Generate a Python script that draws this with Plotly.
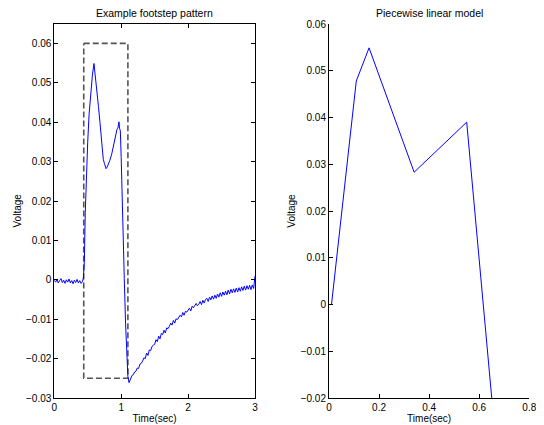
import plotly.graph_objects as go

# ---------------- data ----------------
# Left panel: recorded footstep voltage (sec, V)
base_t = [0.00, 0.02, 0.04, 0.06, 0.08, 0.10, 0.12, 0.14, 0.16, 0.18, 0.20,
          0.22, 0.24, 0.26, 0.28, 0.30, 0.32, 0.34, 0.36, 0.38, 0.40, 0.42]
base_v = [-0.0001, -0.0006, 0.0001, -0.0008, -0.0002, 0.0003, -0.0007, -0.0001,
          -0.0009, 0.0000, -0.0006, 0.0002, -0.0008, -0.0002, -0.0010, -0.0001,
          -0.0007, 0.0001, -0.0008, -0.0002, -0.0009, -0.0005]

pulse_t = [0.434, 0.449, 0.463, 0.474, 0.485, 0.499, 0.52, 0.544, 0.57, 0.593,
           0.61, 0.634, 0.66, 0.683, 0.71, 0.732, 0.75, 0.773, 0.79, 0.807,
           0.83, 0.858, 0.885, 0.908, 0.92, 0.937, 0.95, 0.967, 0.975, 0.987,
           1.0, 1.007, 1.046, 1.065, 1.082, 1.10, 1.117, 1.13]
pulse_v = [0.0004, 0.0045, 0.0171, 0.0240, 0.0300, 0.0348, 0.0420, 0.0479, 0.0520, 0.0549,
           0.0525, 0.0483, 0.0440, 0.0399, 0.0350, 0.0306, 0.0295, 0.0282, 0.0286, 0.0293,
           0.0303, 0.0319, 0.0340, 0.0357, 0.0372, 0.0382, 0.0385, 0.0401, 0.0385, 0.0378,
           0.0310, 0.0255, 0.0003, -0.0110, -0.0200, -0.0245, -0.0261, -0.0252]

decay_t = [1.14, 1.16, 1.18, 1.20, 1.22, 1.24, 1.26, 1.28, 1.30, 1.32, 1.34, 1.36,
           1.38, 1.40, 1.42, 1.44, 1.46, 1.48, 1.50, 1.52, 1.54, 1.56, 1.58, 1.60,
           1.62, 1.64, 1.66, 1.68, 1.70, 1.72, 1.74, 1.76, 1.78, 1.80, 1.82, 1.84,
           1.86, 1.88, 1.90, 1.92, 1.94, 1.96, 1.98, 2.00, 2.02, 2.04, 2.06, 2.08,
           2.10, 2.12, 2.14, 2.16, 2.18, 2.20, 2.22, 2.24, 2.26, 2.28, 2.30, 2.32,
           2.34, 2.36, 2.38, 2.40, 2.42, 2.44, 2.46, 2.48, 2.50, 2.52, 2.54, 2.56,
           2.58, 2.60, 2.62, 2.64, 2.66, 2.68, 2.70, 2.72, 2.74, 2.76, 2.78, 2.80,
           2.82, 2.84, 2.86, 2.88, 2.90, 2.92, 2.94, 2.96, 2.98, 3.00]
decay_v = [-0.0252, -0.0243, -0.0241, -0.0234, -0.0232, -0.0224, -0.0225, -0.0214,
           -0.0212, -0.0206, -0.0198, -0.0200, -0.0186, -0.0192, -0.0178, -0.0180,
           -0.0169, -0.0166, -0.0164, -0.0152, -0.0157, -0.0143, -0.0150, -0.0136,
           -0.0139, -0.0128, -0.0135, -0.0122, -0.0124, -0.0118, -0.0110, -0.0115,
           -0.0103, -0.0110, -0.0099, -0.0101, -0.0096, -0.0090, -0.0094, -0.0083,
           -0.0090, -0.0080, -0.0082, -0.0077, -0.0072, -0.0079, -0.0067, -0.0071,
           -0.0066, -0.0060, -0.0066, -0.0062, -0.0055, -0.0063, -0.0052, -0.0059,
           -0.0050, -0.0047, -0.0055, -0.0044, -0.0051, -0.0041, -0.0049, -0.0039,
           -0.0047, -0.0036, -0.0044, -0.0033, -0.0042, -0.0031, -0.0039, -0.0029,
           -0.0038, -0.0026, -0.0036, -0.0024, -0.0033, -0.0023, -0.0032, -0.0021,
           -0.0031, -0.0020, -0.0029, -0.0018, -0.0027, -0.0016, -0.0026, -0.0015,
           -0.0024, -0.0014, -0.0025, -0.0013, -0.0022, 0.0010]

# dashed rectangle marking the footstep window
box_t = [0.44, 1.10, 1.10, 0.44, 0.44]
box_v = [0.060, 0.060, -0.025, -0.025, 0.060]

# Right panel: piecewise linear model
model_t = [0.01, 0.109, 0.16, 0.34, 0.55, 0.65]
model_v = [0.0, 0.0478, 0.0549, 0.0283, 0.0390, -0.020]

# ---------------- figure ----------------
FONT = "Liberation Sans, Arial, Helvetica, sans-serif"
W, H, OFF = 536, 417, 8   # page body adds an 8px margin


def px_x(p):
    return (p - OFF) / W


def px_y(p):
    return 1 - (p - OFF) / H


signal_t = base_t + pulse_t + decay_t
signal_v = base_v + pulse_v + decay_v

fig = go.Figure()
fig.add_trace(go.Scatter(x=box_t, y=box_v, mode="lines",
                         line=dict(color="#555555", width=1.6, dash="6px,3px"),
                         xaxis="x", yaxis="y", hoverinfo="skip"))
fig.add_trace(go.Scatter(x=signal_t, y=signal_v, mode="lines",
                         line=dict(color="#0000ff", width=1),
                         xaxis="x", yaxis="y"))
fig.add_trace(go.Scatter(x=model_t, y=model_v, mode="lines",
                         line=dict(color="#0000ff", width=1),
                         xaxis="x2", yaxis="y2"))

axis_common = dict(showgrid=False, zeroline=False, showline=True, automargin=False,
                   linecolor="black", linewidth=1, ticks="inside",
                   ticklen=4, tickcolor="black", tickwidth=1,
                   tickfont=dict(family=FONT, size=10, color="black"))
title_font = dict(family=FONT, size=10, color="black")

fig.update_layout(
    template="none",
    width=W, height=H,
    margin=dict(l=0, r=0, t=0, b=0, autoexpand=False),
    paper_bgcolor="white", plot_bgcolor="white",
    showlegend=False,
    font=dict(family=FONT, size=10, color="black"),
    xaxis=dict(domain=[px_x(54.3), px_x(255)], range=[0, 3], tick0=0, dtick=1,
               mirror="ticks", anchor="y",
               title=dict(text="Time(sec)", standoff=2, font=title_font),
               **axis_common),
    yaxis=dict(domain=[px_y(398), px_y(23.7)], range=[-0.03, 0.065],
               tick0=0, dtick=0.01, mirror="ticks", anchor="x",
               title=dict(text="Voltage", standoff=2, font=title_font),
               **axis_common),
    xaxis2=dict(domain=[px_x(329), px_x(529.3)], range=[0, 0.8], tick0=0, dtick=0.2,
                anchor="y2",
                title=dict(text="Time(sec)", standoff=2, font=title_font),
                **axis_common),
    yaxis2=dict(domain=[px_y(398), px_y(24)], range=[-0.02, 0.06],
                tick0=0, dtick=0.01, anchor="x2",
                title=dict(text="Voltage", standoff=3, font=title_font),
                **axis_common),
    annotations=[
        dict(text="Example footstep pattern", x=px_x((54.3 + 255) / 2), y=px_y(12.5),
             xref="paper", yref="paper", xanchor="center", yanchor="middle",
             showarrow=False, font=dict(family=FONT, size=10.5, color="black")),
        dict(text="Piecewise linear model", x=px_x((329 + 529.3) / 2), y=px_y(12.5),
             xref="paper", yref="paper", xanchor="center", yanchor="middle",
             showarrow=False, font=dict(family=FONT, size=10.5, color="black")),
    ],
)

fig.write_html("out.html")
